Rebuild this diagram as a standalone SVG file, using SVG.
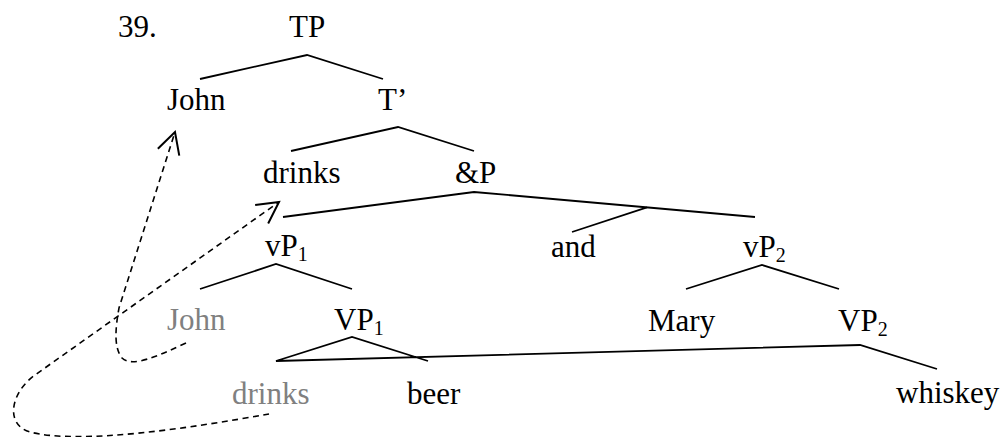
<svg xmlns="http://www.w3.org/2000/svg" width="1002" height="437" viewBox="0 0 1002 437">
<style>
text,tspan{font-family:"Liberation Serif",serif !important}
text{font-size:31px;fill:#000}
.g{fill:#808080}
.sub{font-size:20px}
.edge{stroke:#000;stroke-width:1.8;fill:none}
.move{stroke:#000;stroke-width:1.6;fill:none;stroke-dasharray:6 4.5}
</style>
<defs>
<marker id="ah" markerUnits="userSpaceOnUse" markerWidth="30" markerHeight="30" viewBox="-20 -12 24 24" refX="0" refY="0" orient="auto">
<path d="M-17,-9 L0,0 L-17,9" fill="none" stroke="#000" stroke-width="1.6" stroke-dasharray="none"/>
</marker>
</defs>
<g id="label39"><text style="font-family:'Liberation Serif'" x="118" y="37">39.</text></g>
<g id="TP"><text style="font-family:'Liberation Serif'" x="289" y="37">TP</text></g>
<g id="John"><text style="font-family:'Liberation Serif'" x="167" y="110">John</text></g>
<g id="Tbar"><text style="font-family:'Liberation Serif'" x="378" y="110">T’</text></g>
<g id="drinks"><text style="font-family:'Liberation Serif'" x="263" y="183">drinks</text></g>
<g id="andP"><text style="font-family:'Liberation Serif'" x="455" y="183">&amp;P</text></g>
<g id="vP1"><text style="font-family:'Liberation Serif'" x="265" y="256">vP<tspan class="sub" dy="5">1</tspan></text></g>
<g id="and"><text style="font-family:'Liberation Serif'" x="551" y="257">and</text></g>
<g id="vP2"><text style="font-family:'Liberation Serif'" x="743" y="257">vP<tspan class="sub" dy="5">2</tspan></text></g>
<g id="John-trace"><text style="font-family:'Liberation Serif'" class="g" x="167" y="330">John</text></g>
<g id="VP1"><text style="font-family:'Liberation Serif'" x="334" y="330">VP<tspan class="sub" dy="5">1</tspan></text></g>
<g id="Mary"><text style="font-family:'Liberation Serif'" x="648" y="331">Mary</text></g>
<g id="VP2"><text style="font-family:'Liberation Serif'" x="838" y="331">VP<tspan class="sub" dy="5">2</tspan></text></g>
<g id="drinks-trace"><text style="font-family:'Liberation Serif'" class="g" x="232" y="404">drinks</text></g>
<g id="beer"><text style="font-family:'Liberation Serif'" x="407" y="404">beer</text></g>
<g id="whiskey"><text style="font-family:'Liberation Serif'" x="896" y="403">whiskey</text></g>
<g id="connectors">
<polyline class="edge" points="200,79 307,55 383,79"/>
<polyline class="edge" points="291,151 398,127 474,151"/>
<polyline class="edge" points="283,217 474,192 755,217"/>
<line class="edge" x1="647" y1="207.4" x2="572" y2="232"/>
<polyline class="edge" points="200,289 276,264 352,289"/>
<polyline class="edge" points="686,289 762,265 839,289"/>
<polyline class="edge" points="428,361 352,337 276,361 860,345 937,369"/>
<path class="move" d="M186,343 C158,356 132,368 122,358 C114,348 115,330 119,308 L175,132" marker-end="url(#ah)"/>
<path class="move" d="M269,414 C190,428 80,445 30,432 C5,425 10,393 35,375 L279,202" marker-end="url(#ah)"/>
</g>
</svg>
